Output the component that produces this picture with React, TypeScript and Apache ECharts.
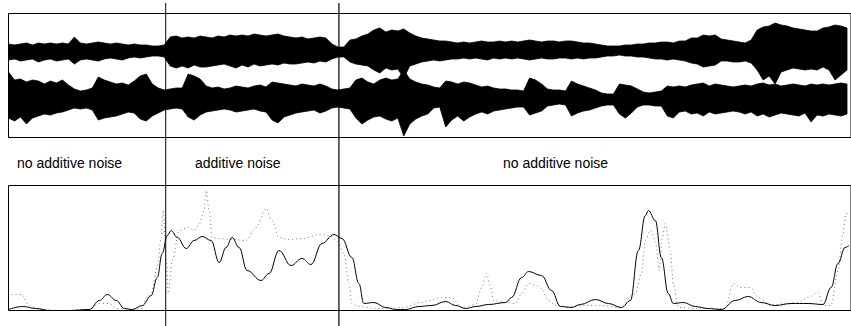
import React, { useEffect, useRef } from "react";
import * as echarts from "echarts";

// Waveform envelope (stereo), one sample every WAVE_STEP time units
const WAVE_STEP = 6;
const ch1Hi = [
  7, 6, 7, 8, 6, 8, 7, 8, 7, 8, 7, 14, 8, 7, 8, 9, 8, 7, 8, 7,
  6, 7, 6, 6, 5, 5, 6, 14, 15, 13, 14, 13, 15, 14, 13, 15, 14, 16, 15, 16,
  15, 17, 16, 15, 16, 17, 15, 14, 13, 14, 12, 13, 14, 13, 7, 4, 4, 11, 12, 15,
  17, 21, 23, 19, 21, 20, 22, 18, 15, 13, 12, 11, 10, 10, 9, 8, 9, 8, 9, 10,
  9, 9, 10, 9, 10, 9, 10, 11, 10, 9, 10, 10, 9, 10, 10, 9, 8, 8, 7, 6,
  5, 5, 5, 6, 6, 7, 7, 8, 8, 9, 9, 8, 10, 10, 13, 13, 16, 15, 16, 12,
  11, 10, 9, 8, 11, 21, 24, 25, 28, 26, 25, 23, 22, 21, 20, 20, 23, 24, 26, 25,
  23,
];
const ch1Lo = [
  9, 8, 10, 9, 8, 11, 9, 8, 10, 9, 8, 13, 9, 8, 9, 10, 8, 7, 8, 9,
  7, 6, 7, 6, 5, 5, 6, 15, 17, 15, 17, 14, 16, 16, 15, 14, 13, 15, 17, 14,
  16, 13, 15, 14, 13, 14, 12, 13, 13, 12, 11, 12, 10, 11, 8, 6, 6, 11, 13, 14,
  15, 19, 22, 17, 19, 18, 27, 15, 13, 11, 10, 9, 10, 9, 8, 8, 7, 8, 7, 8,
  9, 7, 8, 7, 8, 7, 8, 9, 8, 7, 8, 8, 7, 7, 8, 7, 8, 7, 7, 6,
  5, 5, 4, 5, 5, 6, 6, 7, 8, 8, 9, 8, 9, 10, 12, 13, 16, 15, 14, 10,
  10, 11, 11, 10, 12, 19, 29, 25, 33, 21, 19, 17, 18, 19, 18, 19, 16, 19, 29, 24,
  19,
];
const ch2Hi = [
  26, 18, 19, 16, 18, 17, 14, 17, 15, 18, 13, 9, 7, 8, 10, 21, 18, 16, 14, 15,
  13, 17, 22, 24, 14, 10, 8, 9, 10, 10, 24, 22, 19, 12, 10, 11, 9, 10, 12, 11,
  10, 12, 13, 11, 16, 15, 14, 13, 12, 14, 13, 12, 14, 12, 9, 8, 9, 10, 18, 20,
  16, 14, 18, 20, 18, 19, 28, 19, 16, 14, 13, 11, 10, 17, 16, 14, 16, 15, 13, 11,
  12, 10, 9, 9, 8, 8, 7, 20, 18, 14, 9, 8, 8, 7, 17, 14, 12, 10, 8, 5,
  4, 4, 14, 13, 12, 9, 6, 5, 6, 7, 12, 11, 12, 11, 13, 14, 15, 12, 14, 13,
  12, 11, 12, 13, 12, 14, 15, 13, 14, 12, 13, 14, 13, 12, 14, 13, 14, 13, 14, 15,
  14,
];
const ch2Lo = [
  20, 23, 19, 26, 20, 18, 16, 17, 15, 14, 12, 10, 11, 10, 12, 22, 20, 19, 18, 16,
  14, 15, 21, 23, 18, 15, 12, 11, 10, 11, 19, 22, 17, 14, 13, 12, 11, 12, 14, 13,
  12, 11, 13, 14, 22, 25, 19, 17, 15, 14, 13, 12, 15, 13, 10, 9, 10, 11, 20, 26,
  22, 19, 18, 21, 23, 20, 38, 26, 21, 18, 16, 10, 9, 29, 22, 18, 23, 19, 16, 14,
  16, 13, 12, 11, 10, 9, 9, 17, 15, 13, 8, 7, 6, 7, 18, 15, 13, 12, 10, 8,
  7, 7, 16, 20, 15, 9, 7, 7, 8, 8, 18, 20, 14, 13, 16, 15, 18, 14, 16, 15,
  14, 13, 14, 16, 14, 18, 16, 19, 17, 15, 16, 17, 18, 15, 24, 17, 18, 16, 17, 18,
  16,
];

// Lower panel: solid curve
const solidT = [
  0, 14, 28, 41, 61, 81, 91, 99, 108, 116, 124, 134, 143, 149, 154, 159, 163, 169, 178, 186,
  194, 203, 211, 218, 224, 231, 239, 253, 261, 271, 283, 294, 303, 314, 326, 334, 344, 351, 356, 366,
  378, 388, 398, 411, 424, 438, 448, 458, 468, 481, 498, 504, 514, 521, 534, 544, 553, 564, 573, 588,
  601, 614, 623, 631, 638, 641, 648, 654, 661, 666, 676, 688, 701, 714, 728, 741, 754, 768, 784, 801,
  816, 824, 831, 838, 842,
];
const solidV = [
  1, 4, 2, 0, 0, 1, 10, 16, 10, 2, 1, 5, 15, 33, 57, 75, 80, 73, 62, 70,
  74, 70, 48, 63, 73, 63, 40, 30, 37, 60, 45, 52, 46, 67, 76, 72, 53, 27, 7, 8,
  3, 1, 1, 4, 5, 9, 5, 2, 4, 6, 8, 13, 33, 39, 35, 20, 4, 3, 6, 11,
  7, 3, 10, 60, 95, 100, 90, 53, 17, 7, 8, 4, 2, 1, 10, 14, 8, 5, 7, 7,
  6, 23, 47, 63, 65,
];

// Lower panel: dotted curve
const dottedT = [
  3, 13, 21, 31, 51, 81, 91, 101, 109, 121, 134, 138, 143, 149, 153, 155, 158, 160, 164, 171,
  179, 186, 191, 196, 198, 201, 204, 211, 224, 238, 248, 258, 264, 271, 281, 296, 311, 321, 329, 336,
  341, 344, 351, 368, 381, 394, 414, 421, 434, 444, 454, 468, 474, 479, 483, 486, 498, 508, 514, 521,
  528, 534, 541, 548, 561, 578, 594, 611, 628, 634, 638, 643, 648, 652, 655, 658, 663, 666, 671, 691,
  718, 726, 733, 743, 751, 764, 778, 791, 801, 811, 816, 824, 831, 836, 839, 842,
];
const dottedV = [
  16, 16, 5, 1, 0, 1, 7, 7, 2, 1, 2, 13, 18, 43, 73, 100, 53, 17, 50, 80,
  83, 80, 86, 100, 120, 100, 73, 72, 71, 70, 83, 102, 90, 73, 71, 72, 76, 75, 70, 57,
  27, 7, 4, 2, 2, 3, 8, 10, 13, 13, 3, 6, 23, 37, 23, 10, 8, 7, 17, 27,
  25, 22, 10, 5, 4, 5, 5, 3, 17, 37, 70, 80, 70, 40, 73, 87, 60, 27, 3, 2,
  2, 27, 23, 23, 13, 5, 7, 8, 13, 18, 5, 5, 40, 77, 97, 98,
];

const segmentBoundaries = [157.5, 331];
const segmentLabels = ["no additive noise", "additive noise", "no additive noise"];
const labelLeft = [17, 195, 503];

const FONT = '14px "Liberation Sans", Arial, Helvetica, sans-serif';

export default function App() {
  const ref = useRef<HTMLDivElement>(null);

  useEffect(() => {
    document.body.style.margin = "0";
    const chart = echarts.init(ref.current!, null, { renderer: "svg" });
    const waveT = ch1Hi.map((_, i) => i * WAVE_STEP);

    const envelope = (hi: number[], lo: number[], yIdx: number) => ({
      type: "custom",
      xAxisIndex: 0,
      yAxisIndex: yIdx,
      silent: true,
      data: [[0, 0]],
      renderItem: (_params: any, api: any) => {
        const pts: number[][] = [];
        for (let i = 0; i < hi.length; i++) pts.push(api.coord([waveT[i], hi[i]]));
        for (let i = hi.length - 1; i >= 0; i--) pts.push(api.coord([waveT[i], -lo[i]]));
        return {
          type: "polygon",
          shape: { points: pts },
          style: { fill: "#000", stroke: "#000", lineWidth: 0.8 },
        };
      },
    });

    chart.setOption({
      animation: false,
      grid: [
        { left: 8.5, top: 13.5, width: 844, height: 124, show: true, borderColor: "#000", borderWidth: 1, backgroundColor: "transparent" },
        { left: 8.5, top: 185.5, width: 844, height: 125, show: true, borderColor: "#000", borderWidth: 1, backgroundColor: "transparent" },
      ],
      xAxis: [
        { type: "value", gridIndex: 0, min: 0, max: 844, show: false },
        { type: "value", gridIndex: 1, min: 0, max: 844, show: false },
      ],
      yAxis: [
        { type: "value", gridIndex: 0, min: -86.5, max: 37.5, show: false },
        { type: "value", gridIndex: 0, min: -39.5, max: 84.5, show: false },
        { type: "value", gridIndex: 1, min: 0, max: 125, show: false },
      ],
      series: [
        envelope(ch1Hi, ch1Lo, 0),
        envelope(ch2Hi, ch2Lo, 1),
        {
          type: "line",
          xAxisIndex: 1,
          yAxisIndex: 2,
          data: dottedT.map((t, i) => [t, dottedV[i]]),
          showSymbol: false,
          smooth: 0.3,
          smoothMonotone: "x",
          lineStyle: { color: "#777", width: 1, type: [1, 3] },
          silent: true,
        },
        {
          type: "line",
          xAxisIndex: 1,
          yAxisIndex: 2,
          data: solidT.map((t, i) => [t, solidV[i]]),
          showSymbol: false,
          smooth: 0.4,
          smoothMonotone: "x",
          lineStyle: { color: "#000", width: 1 },
          silent: true,
        },
      ],
    });

    const bx = segmentBoundaries.map((b) => chart.convertToPixel({ xAxisIndex: 0 }, b) as number);
    chart.setOption({
      graphic: [
        ...bx.map((x, i) => ({
          type: "line",
          shape: { x1: x, y1: 3, x2: x, y2: 326 },
          style: { stroke: "#000", lineWidth: i === 0 ? 1 : 1.2 },
          silent: true,
          z: 100,
        })),
        ...segmentLabels.map((text, i) => ({
          type: "text",
          x: labelLeft[i],
          y: 163,
          style: { text, font: FONT, fill: "#000", textAlign: "left", textVerticalAlign: "middle" },
          silent: true,
        })),
      ],
    });

    return () => chart.dispose();
  }, []);

  return <div ref={ref} style={{ width: 851, height: 326 }} />;
}
